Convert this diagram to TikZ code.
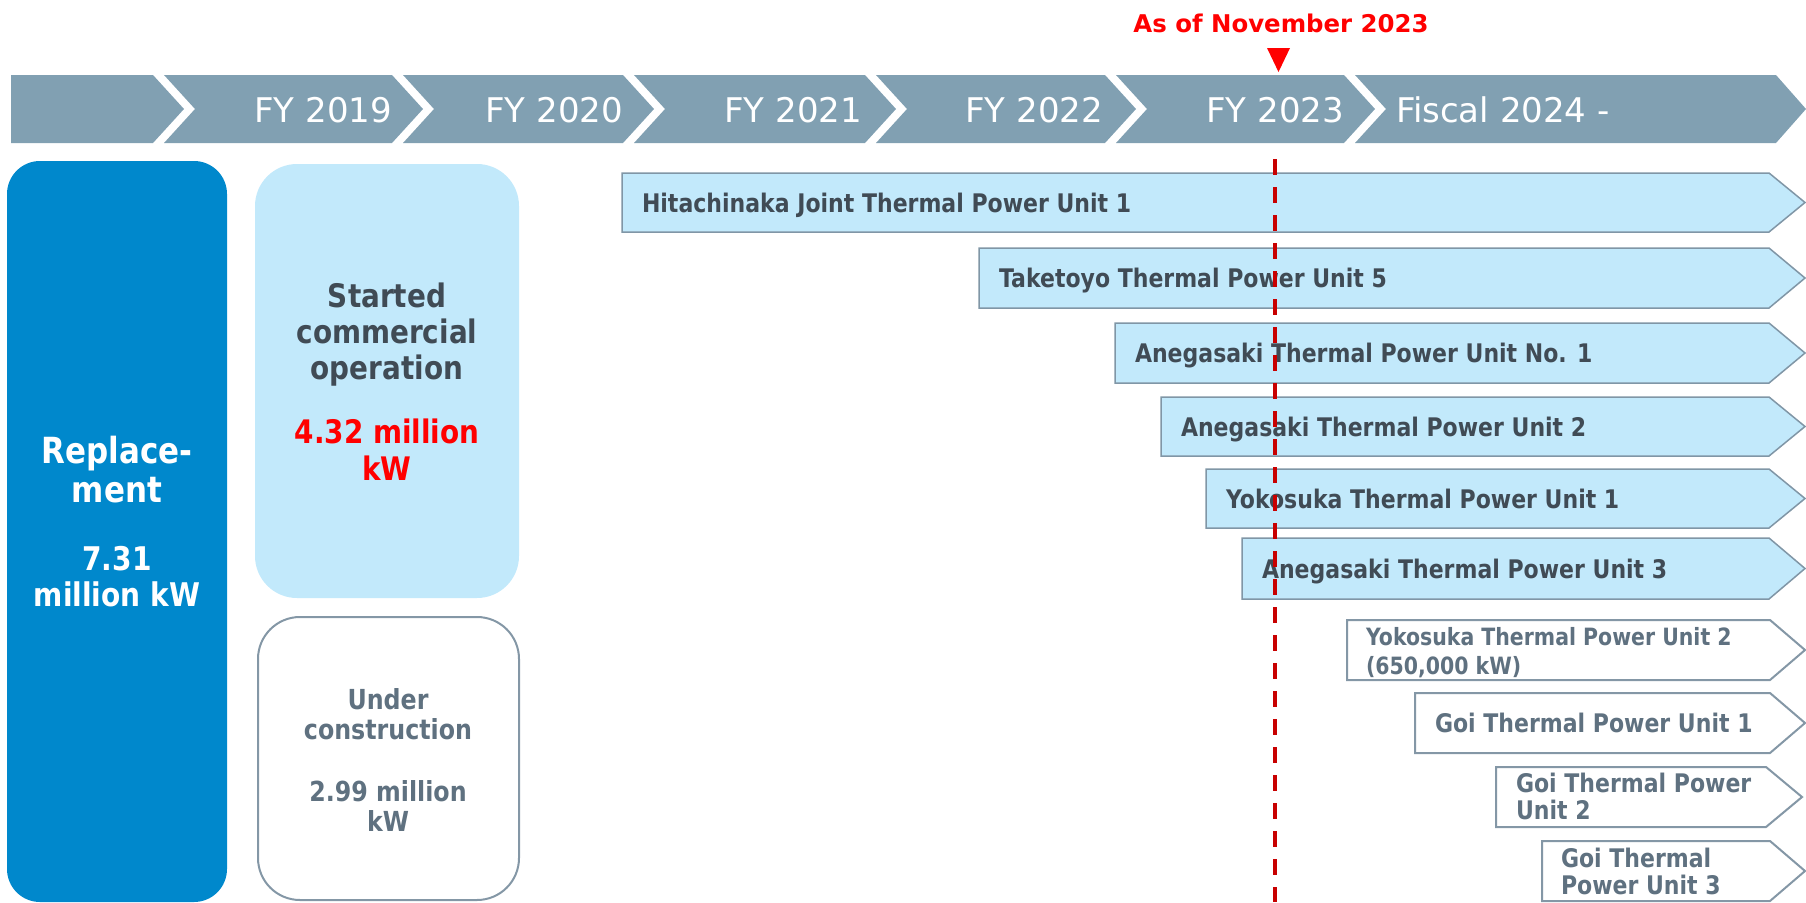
\documentclass[tikz,border=0pt]{standalone}
\usepackage{fontspec}
\setmainfont{DejaVu Sans}
\newfontfamily\narrowsans[FakeStretch=0.86]{DejaVu Sans}

\definecolor{bandgray}{RGB}{129,160,178}
\definecolor{replblue}{RGB}{0,136,204}
\definecolor{opblue}{RGB}{194,233,251}
\definecolor{opline}{RGB}{128,150,166}
\definecolor{optext}{RGB}{64,75,85}
\definecolor{conline}{RGB}{132,151,166}
\definecolor{context}{RGB}{95,113,128}
\definecolor{nowred}{RGB}{255,0,0}
\definecolor{nowdash}{RGB}{200,0,0}

\begin{document}
\begin{tikzpicture}[x=1pt, y=-1pt,
	every node/.style={inner sep=0pt, outer sep=0pt},
	band/.style={fill=bandgray},
	fy/.style={anchor=base east, text=white, font=\fontsize{34}{40}\selectfont},
	running/.style={fill=opblue, draw=opline, line width=1.5pt},
	planned/.style={fill=white, draw=conline, line width=2pt},
	runtext/.style={anchor=base west, align=left, text=optext, font=\narrowsans\bfseries\fontsize{25.6}{28}\selectfont},
	plantext/.style={anchor=base west, align=left, text=context, font=\narrowsans\bfseries\fontsize{25.6}{27}\selectfont},
	nowline/.style={draw=nowdash, line width=4pt, dash pattern=on 16pt off 12pt}]
\useasboundingbox (0,0) rectangle (1806,902);

% fiscal year band
\fill[band] (11,75) -- (153,75) -- (184,109) -- (153,143) -- (11,143) -- cycle;
\fill[band] (164,75) -- (392,75) -- (423,109) -- (392,143) -- (164,143) -- (195,109) -- cycle;
\fill[band] (403,75) -- (623,75) -- (654,109) -- (623,143) -- (403,143) -- (434,109) -- cycle;
\fill[band] (634,75) -- (865,75) -- (896,109) -- (865,143) -- (634,143) -- (665,109) -- cycle;
\fill[band] (876,75) -- (1105,75) -- (1136,109) -- (1105,143) -- (876,143) -- (907,109) -- cycle;
\fill[band] (1116,75) -- (1344,75) -- (1375,109) -- (1344,143) -- (1116,143) -- (1147,109) -- cycle;
\fill[band] (1355,75) -- (1776,75) -- (1806,109) -- (1776,143) -- (1355,143) -- (1386,109) -- cycle;

\node[fy] (fy19) at (392,122) {FY 2019};
\node[fy] (fy20) at (623,122) {FY 2020};
\node[fy] (fy21) at (862,122) {FY 2021};
\node[fy] (fy22) at (1103,122) {FY 2022};
\node[fy] (fy23) at (1344,122) {FY 2023};
\node[fy, anchor=base west] (fy24) at (1396,122) {Fiscal 2024 -};

% today marker
\node[anchor=base, text=nowred, font=\bfseries\fontsize{24.4}{28}\selectfont] (asof) at (1281,32) {As of November 2023};
\fill[nowred] (1267,48) -- (1290,48) -- (1278.5,72) -- cycle;

% totals on the left (base = last line)
\node[fill=replblue, rounded corners=33pt, minimum width=220pt, minimum height=741pt, anchor=north west] (replbox) at (7,161) {};
\node[fill=opblue, rounded corners=42pt, minimum width=264pt, minimum height=434pt, anchor=north west] (opbox) at (255,164) {};
\node[draw=conline, line width=2pt, rounded corners=42pt, minimum width=261pt, minimum height=283pt, anchor=north west] (conbox) at (258,617) {};

\node[anchor=base, align=center, text=white, font=\narrowsans\bfseries\fontsize{36}{39.5}\selectfont] (repl) at (117,502.5) {Replace-\\ment};
\node[anchor=base, align=center, text=white, font=\narrowsans\bfseries\fontsize{32.6}{35.6}\selectfont] (replkw) at (117,606.5) {7.31\\million kW};
\node[anchor=base, align=center, text=optext, font=\narrowsans\bfseries\fontsize{32.4}{36}\selectfont] (op) at (387,379) {Started\\commercial\\operation};
\node[anchor=base, align=center, text=nowred, font=\narrowsans\bfseries\fontsize{32.4}{36.5}\selectfont] (opkw) at (387,480) {4.32 million\\kW};
\node[anchor=base, align=center, text=context, font=\narrowsans\bfseries\fontsize{27.6}{30}\selectfont] (con) at (388,739) {Under\\construction};
\node[anchor=base, align=center, text=context, font=\narrowsans\bfseries\fontsize{27.6}{30}\selectfont] (conkw) at (388,831) {2.99 million\\kW};

% units in operation
\draw[running] (622,173) -- (1769,173) -- (1805,202.5) -- (1769,232) -- (622,232) -- cycle;
\draw[running] (979,248) -- (1769,248) -- (1805,278) -- (1769,308) -- (979,308) -- cycle;
\draw[running] (1115,323) -- (1769,323) -- (1805,353) -- (1769,383) -- (1115,383) -- cycle;
\draw[running] (1161,397) -- (1769,397) -- (1805,426.5) -- (1769,456) -- (1161,456) -- cycle;
\draw[running] (1206,469) -- (1769,469) -- (1805,498.5) -- (1769,528) -- (1206,528) -- cycle;
\draw[running] (1242,538) -- (1769,538) -- (1805,568.5) -- (1769,599) -- (1242,599) -- cycle;

\node[runtext] (hitachinaka1) at (642,212) {Hitachinaka Joint Thermal Power Unit 1};
\node[runtext] (taketoyo5) at (999,287.5) {Taketoyo Thermal Power Unit 5};
\node[runtext] (anegasaki1) at (1135,362.5) {Anegasaki Thermal Power Unit No. 1};
\node[runtext] (anegasaki2) at (1181,436) {Anegasaki Thermal Power Unit 2};
\node[runtext] (yokosuka1) at (1226,508) {Yokosuka Thermal Power Unit 1};
\node[runtext] (anegasaki3) at (1262,578) {Anegasaki Thermal Power Unit 3};

% units under construction
\draw[planned] (1347,620) -- (1770,620) -- (1805,650) -- (1770,680) -- (1347,680) -- cycle;
\draw[planned] (1415,693) -- (1770,693) -- (1805,723) -- (1770,753) -- (1415,753) -- cycle;
\draw[planned] (1496,767) -- (1766,767) -- (1802,797) -- (1766,827) -- (1496,827) -- cycle;
\draw[planned] (1542,841) -- (1770,841) -- (1805,871) -- (1770,901) -- (1542,901) -- cycle;

\node[plantext, font=\narrowsans\bfseries\fontsize{23.8}{29}\selectfont] (yokosuka2) at (1366,674) {Yokosuka Thermal Power Unit 2\\(650,000 kW)};
\node[plantext] (goi1) at (1435,732) {Goi Thermal Power Unit 1};
\node[plantext] (goi2) at (1516,819) {Goi Thermal Power\\Unit 2};
\node[plantext] (goi3) at (1561,894) {Goi Thermal\\Power Unit 3};

% November 2023 line
\coordinate (nowtop) at (1275,159);
\coordinate (nowbot) at (1275,902);
\draw[nowline] (nowtop) -- (nowbot);
\end{tikzpicture}
\end{document}
